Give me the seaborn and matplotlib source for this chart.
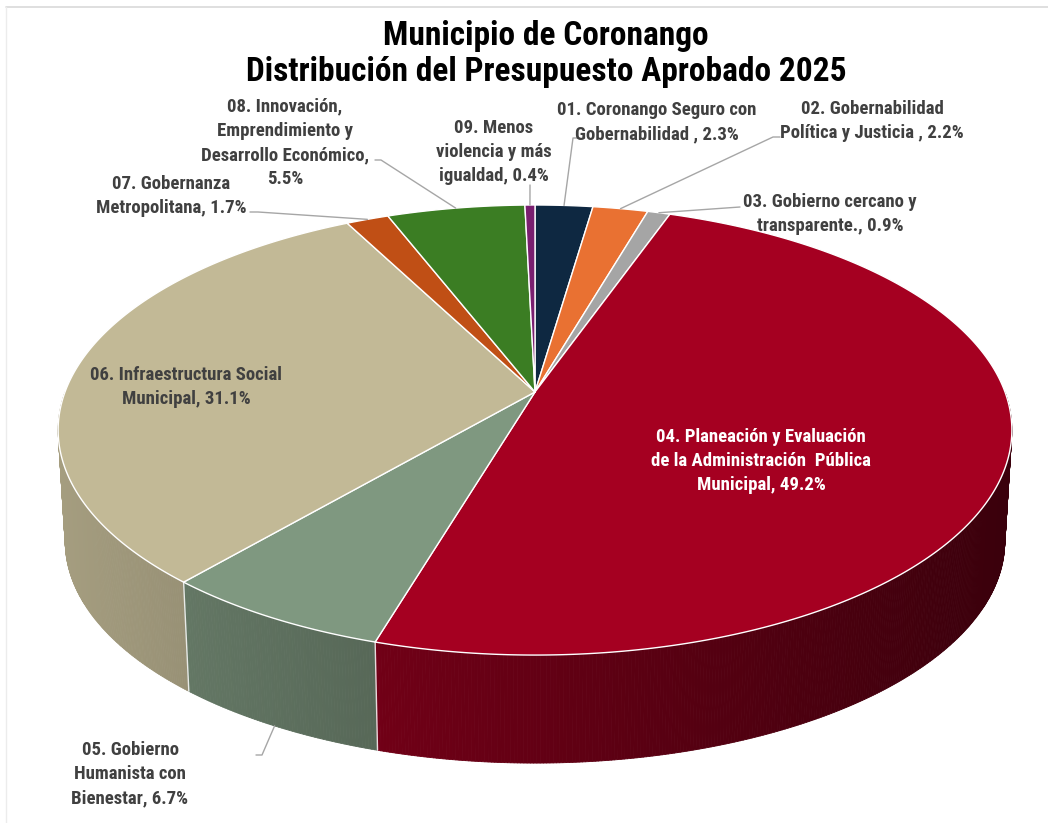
import numpy as np
import matplotlib
matplotlib.use("Agg")
import matplotlib.pyplot as plt
from matplotlib.collections import PolyCollection
from matplotlib.patches import Polygon
import seaborn as sns

# --- data -------------------------------------------------------------
programs = [
    "01. Coronango Seguro con\nGobernabilidad",
    "02. Gobernabilidad\nPolítica y Justicia",
    "03. Gobierno cercano y\ntransparente.",
    "04. Planeación y Evaluación\nde la Administración  Pública\nMunicipal",
    "05. Gobierno\nHumanista con\nBienestar",
    "06. Infraestructura Social\nMunicipal",
    "07. Gobernanza\nMetropolitana",
    "08. Innovación,\nEmprendimiento y\nDesarrollo Económico,",
    "09. Menos\nviolencia y más\nigualdad",
]
shares = [2.3, 2.2, 0.9, 49.2, 6.7, 31.1, 1.7, 5.5, 0.4]
colors = ["#0e2841", "#e97132", "#a5a5a5", "#a50021", "#7f9880",
          "#c2b996", "#c04f15", "#3b7d23", "#7a1f70"]

sns.set_theme(style="white")
plt.rcParams["font.family"] = ["Roboto Condensed", "Roboto", "DejaVu Sans"]
palette = sns.color_palette(colors)

# --- disc geometry (pixels) -----------------------------------------
CX, CY = 535, 392
A, B, K = 470, 218.6, 0.169
A_BOT, B_BOT, DEPTH = 463, 215.3, 112


def rim(phi, bottom=False):
    u, v = np.sin(phi), np.cos(phi)
    s = 1 / (1 + K * v)
    if bottom:
        return CX + A_BOT * u * s, CY + DEPTH - B_BOT * v * s
    return CX + A * u * s, CY - B * v * s


def shade(x):
    return np.clip(0.88 - 0.00052 * x, 0.3, 1)


total = sum(shares)
edges = np.radians(np.concatenate([[0], np.cumsum(shares)]) / total * 360)

fig = plt.figure(figsize=(10.48, 8.23), dpi=100)
ax = fig.add_axes([0, 0, 1, 1])
ax.set_xlim(0, 1048)
ax.set_ylim(823, 0)
ax.axis("off")

# chart border
ax.plot([6, 1048], [7, 7], color="#d9d9d9", lw=1.2)
ax.plot([6, 6], [7, 823], color="#ececec", lw=1.0)

# --- side wall -------------------------------------------------------
quads, qcols, depth_key = [], [], []
lo, hi = np.radians(90), np.radians(270)
for i, col in enumerate(palette):
    a0, a1 = max(edges[i], lo), min(edges[i + 1], hi)
    if a1 <= a0:
        continue
    ph = np.linspace(a0, a1, max(3, int(np.degrees(a1 - a0) * 3)))
    for p0, p1 in zip(ph[:-1], ph[1:]):
        t0, t1 = rim(p0), rim(p1)
        b0, b1 = rim(p0, True), rim(p1, True)
        quads.append([t0, t1, b1, b0])
        xm = (t0[0] + t1[0]) / 2
        qcols.append(tuple(np.array(col) * shade(xm)))
        depth_key.append(np.cos((p0 + p1) / 2))
order = np.argsort(depth_key)[::-1]
ax.add_collection(PolyCollection([quads[j] for j in order],
                                 facecolors=[qcols[j] for j in order],
                                 edgecolors=[qcols[j] for j in order],
                                 linewidths=0.6))
for e in edges:
    if lo < e < hi:
        t, b = rim(e), rim(e, True)
        ax.plot([t[0], b[0]], [t[1], b[1]], color="white", lw=1.0, alpha=0.85)

# --- top face ---------------------------------------------------------
for i, col in enumerate(palette):
    ph = np.linspace(edges[i], edges[i + 1],
                     max(3, int(np.degrees(edges[i + 1] - edges[i]) * 3)))
    pts = [(CX, CY)] + [rim(p) for p in ph]
    ax.add_patch(Polygon(pts, closed=True, facecolor=col, edgecolor="white",
                         lw=1.0, joinstyle="round"))

# --- labels -----------------------------------------------------------
label_pos = [(657, 122), (872, 121), (830, 214), (761, 461), (130, 774),
             (186, 387), (171, 196), (285, 143), (494, 152)]
# label side start of leader (None = label sits inside the slice)
leader_start = [[(580, 138), (573, 138)], [(780, 137), (773, 137)],
                [(740, 207)], None, [(256, 755), (262, 755)], None,
                [(250, 212), (258, 212)], [(375, 160), (381, 160)],
                [(530, 185)]]
mids = (edges[:-1] + edges[1:]) / 2

for i, (name, val) in enumerate(zip(programs, shares)):
    if name.endswith(","):
        txt = f"{name}\n{val:.1f}%"
    elif i in (0, 1):
        txt = f"{name} , {val:.1f}%"
    else:
        txt = f"{name}, {val:.1f}%"
    tcol = "white" if i == 3 else "#404040"
    ax.text(*label_pos[i], txt, ha="center", va="center", multialignment="center",
            fontsize=13.5, fontweight="bold", color=tcol, linespacing=1.45)
    if leader_start[i] is not None:
        end = rim(mids[i], bottom=(i == 4))
        xs = [p[0] for p in leader_start[i]] + [end[0]]
        ys = [p[1] for p in leader_start[i]] + [end[1]]
        ax.plot(xs, ys, color="#a6a6a6", lw=1.0)

ax.text(546, 54, "Municipio de Coronango\nDistribución del Presupuesto Aprobado 2025",
        ha="center", va="center", fontsize=24, fontweight="bold", color="black",
        linespacing=1.15)

fig.savefig("out.png", dpi=100)
